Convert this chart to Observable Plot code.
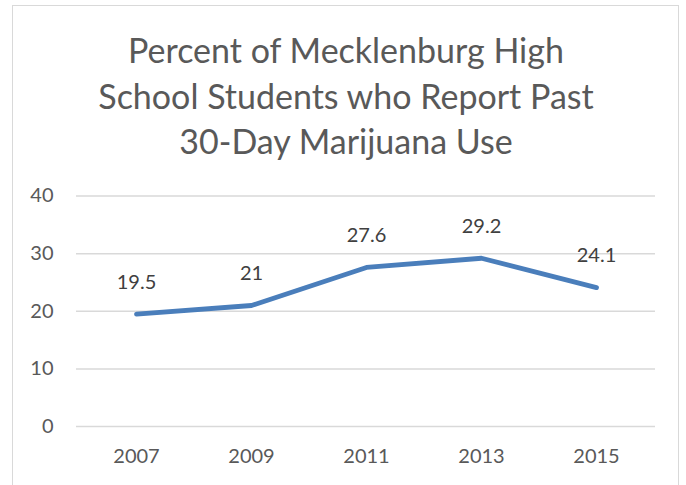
<!DOCTYPE html>
<html>
<head>
<meta charset="utf-8">
<script src="https://cdn.jsdelivr.net/npm/d3@7"></script>
<script src="https://cdn.jsdelivr.net/npm/@observablehq/plot@0.6"></script>
<style>
  html, body { margin: 0; padding: 0; background: #fff; }
  #wrap { position: relative; width: 686px; height: 485px; overflow: hidden; font-family: Lato, "Open Sans", sans-serif; }
  #frame { position: absolute; left: 12px; top: 5px; width: 667px; height: 500px; border: 1px solid #d9d9d9; box-sizing: border-box; }
  #title { position: absolute; left: 0; top: 27px; width: 692px; text-align: center; font-size: 34px; line-height: 45.5px; color: #595959; }
  #chart { position: absolute; left: 0; top: 180px; }
</style>
</head>
<body>
<div id="wrap">
  <div id="frame"></div>
  <div id="title">Percent of Mecklenburg High<br>School Students who Report Past<br>30-Day Marijuana Use</div>
  <div id="chart"></div>
</div>
<script>
const years = ["2007", "2009", "2011", "2013", "2015"];
const values = [19.5, 21, 27.6, 29.2, 24.1];
const yTicks = [0, 10, 20, 30, 40];

const data = years.map((y, i) => ({year: y, value: values[i]}));

const chart = Plot.plot({
  width: 686,
  height: 305,
  marginLeft: 76,
  marginRight: 31,
  marginTop: 15.5,
  marginBottom: 59,
  style: { fontFamily: "Lato, 'Open Sans', sans-serif", fontSize: "20px", color: "#595959", background: "transparent" },
  x: { type: "point", domain: years, padding: 0.5 },
  y: { domain: [0, 40] },
  marks: [
    Plot.gridY(yTicks, { stroke: "#d9d9d9", strokeOpacity: 1, strokeWidth: 1.5 }),
    Plot.axisY(yTicks, { tickSize: 0, tickPadding: 23, label: null, fill: "#595959", fontSize: 20 }),
    Plot.axisX(years, { tickSize: 0, tickPadding: 22, label: null, fill: "#595959", fontSize: 20 }),
    Plot.line(data, { x: "year", y: "value", stroke: "#4a7ebb", strokeWidth: 4.8, strokeLinecap: "round", strokeLinejoin: "round" }),
    Plot.text(data, { x: "year", y: "value", text: d => String(d.value), dy: -32, fill: "#404040", fontSize: 20 })
  ]
});
document.getElementById("chart").appendChild(chart);
</script>
</body>
</html>
